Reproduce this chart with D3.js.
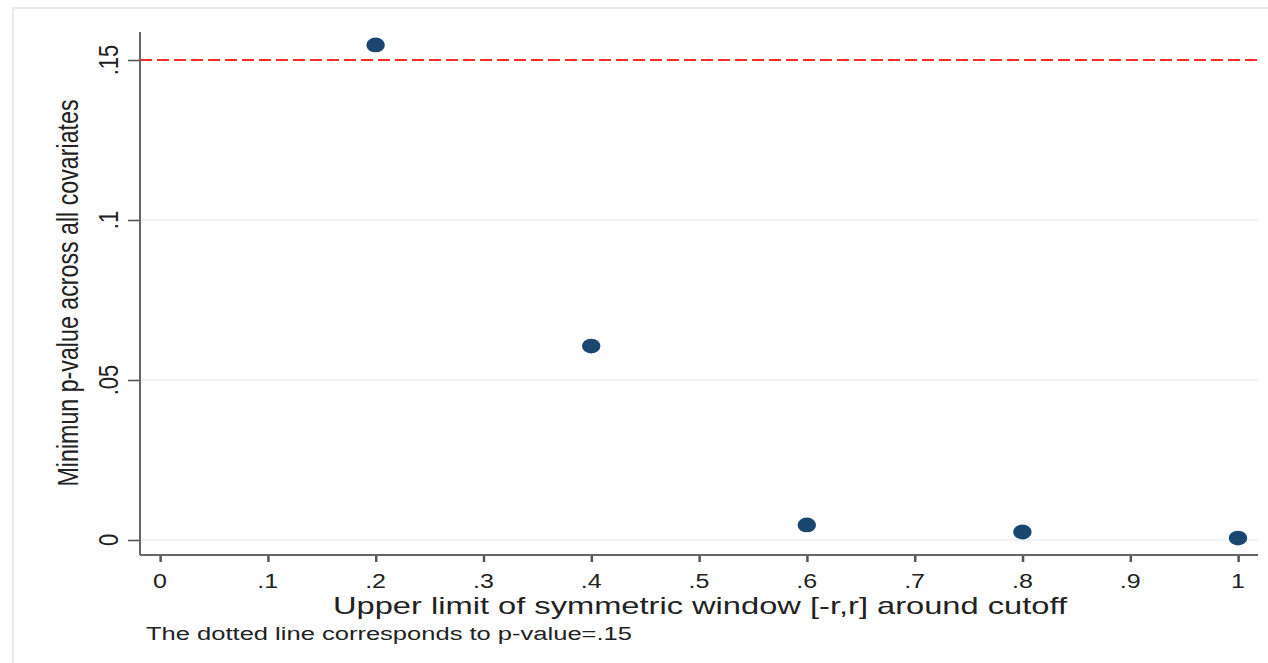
<!DOCTYPE html>
<html>
<head>
<meta charset="utf-8">
<script src="https://cdn.jsdelivr.net/npm/d3@7"></script>
<style>
  body { margin: 0; background: #fff; }
  text { font-family: "Liberation Sans", Arial, sans-serif; fill: #222; }
</style>
</head>
<body>
<div id="chart"></div>
<script>
// data
var windows = [0.2, 0.4, 0.6, 0.8, 1.0];
var minPvalues = [0.1547, 0.0606, 0.0047, 0.0025, 0.0006];
var xTicks = [0, .1, .2, .3, .4, .5, .6, .7, .8, .9, 1];
var yTicks = [0, .05, .1, .15];
var cutoff = 0.15;

var width = 1268, height = 663;
// the picture is stretched sideways, draw inside a scaled group
var sx = 1.25;

var svg = d3.select("#chart").append("svg")
	.attr("width", width)
	.attr("height", height);

svg.append("rect")
	.attr("x", 13).attr("y", 8)
	.attr("width", width).attr("height", height + 20)
	.attr("fill", "#fff")
	.attr("stroke", "#e2eaec")
	.attr("stroke-width", 2);

var g = svg.append("g").attr("transform", "scale(" + sx + ",1)");

var x = d3.scaleLinear().domain([0, 1]).range([160 / sx, 1238 / sx]);
var y = d3.scaleLinear().domain([0, .15]).range([540, 60]);

var plotLeft = 140 / sx, plotRight = 1258 / sx, plotBottom = 555, plotTop = 32;

// gridlines
g.selectAll(".grid").data(yTicks.filter(function (d) { return d < .15; }))
	.enter().append("line")
	.attr("class", "grid")
	.attr("x1", plotLeft).attr("x2", plotRight)
	.attr("y1", function (d) { return y(d); })
	.attr("y2", function (d) { return y(d); })
	.attr("stroke", "#e9eff2")
	.attr("stroke-width", 1.5);

// reference line at p = .15
g.append("line")
	.attr("x1", plotLeft).attr("x2", plotRight)
	.attr("y1", y(cutoff)).attr("y2", y(cutoff))
	.attr("stroke", "#ff2a2a")
	.attr("stroke-width", 2)
	.attr("stroke-dasharray", "9.6,4");

// y axis
var axisLeft = d3.axisLeft(y).tickValues(yTicks).tickSize(9.6).tickFormat("");
var ya = g.append("g")
	.attr("transform", "translate(" + plotLeft + ",0)")
	.call(axisLeft);
ya.select(".domain").remove();
ya.selectAll(".tick line").attr("stroke", "#555").attr("stroke-width", 1.6);

g.append("line")
	.attr("x1", plotLeft).attr("x2", plotLeft)
	.attr("y1", plotTop).attr("y2", plotBottom)
	.attr("stroke", "#666").attr("stroke-width", 1.6);

g.selectAll(".ylab").data(yTicks).enter().append("text")
	.attr("class", "ylab")
	.attr("transform", function (d) { return "translate(94," + y(d) + ") rotate(-90)"; })
	.attr("text-anchor", "middle")
	.style("font-size", "22px")
	.text(function (d) { return d === 0 ? "0" : d3.format(".2~f")(d).replace(/^0/, ""); });

// x axis
var axisBottom = d3.axisBottom(x).tickValues(xTicks).tickSize(7).tickFormat("");
var xa = g.append("g")
	.attr("transform", "translate(0," + plotBottom + ")")
	.call(axisBottom);
xa.select(".domain").remove();
xa.selectAll(".tick line").attr("stroke", "#555").attr("stroke-width", 2);

g.append("line")
	.attr("x1", plotLeft).attr("x2", plotRight)
	.attr("y1", plotBottom).attr("y2", plotBottom)
	.attr("stroke", "#666").attr("stroke-width", 2);

g.selectAll(".xlab").data(xTicks).enter().append("text")
	.attr("class", "xlab")
	.attr("x", function (d) { return x(d); })
	.attr("y", 588)
	.attr("text-anchor", "middle")
	.style("font-size", "20px")
	.text(function (d) { return d === 0 ? "0" : d === 1 ? "1" : d3.format(".1f")(d).replace(/^0/, ""); });

// titles
g.append("text")
	.attr("x", 700 / sx).attr("y", 614)
	.attr("text-anchor", "middle")
	.attr("textLength", 734 / sx)
	.attr("lengthAdjust", "spacingAndGlyphs")
	.style("font-size", "24px")
	.text("Upper limit of symmetric window [-r,r] around cutoff");

g.append("text")
	.attr("transform", "translate(62,293) rotate(-90)")
	.attr("text-anchor", "middle")
	.attr("textLength", 387)
	.attr("lengthAdjust", "spacingAndGlyphs")
	.style("font-size", "23px")
	.text("Minimun p-value across all covariates");

g.append("text")
	.attr("x", 146 / sx).attr("y", 640)
	.attr("textLength", 486 / sx)
	.attr("lengthAdjust", "spacingAndGlyphs")
	.style("font-size", "18px")
	.text("The dotted line corresponds to p-value=.15");

// points
g.selectAll(".pt").data(windows).enter().append("circle")
	.attr("class", "pt")
	.attr("cx", function (d) { return x(d); })
	.attr("cy", function (d, i) { return y(minPvalues[i]); })
	.attr("r", 7.4)
	.attr("fill", "#1a476f");
</script>
</body>
</html>
